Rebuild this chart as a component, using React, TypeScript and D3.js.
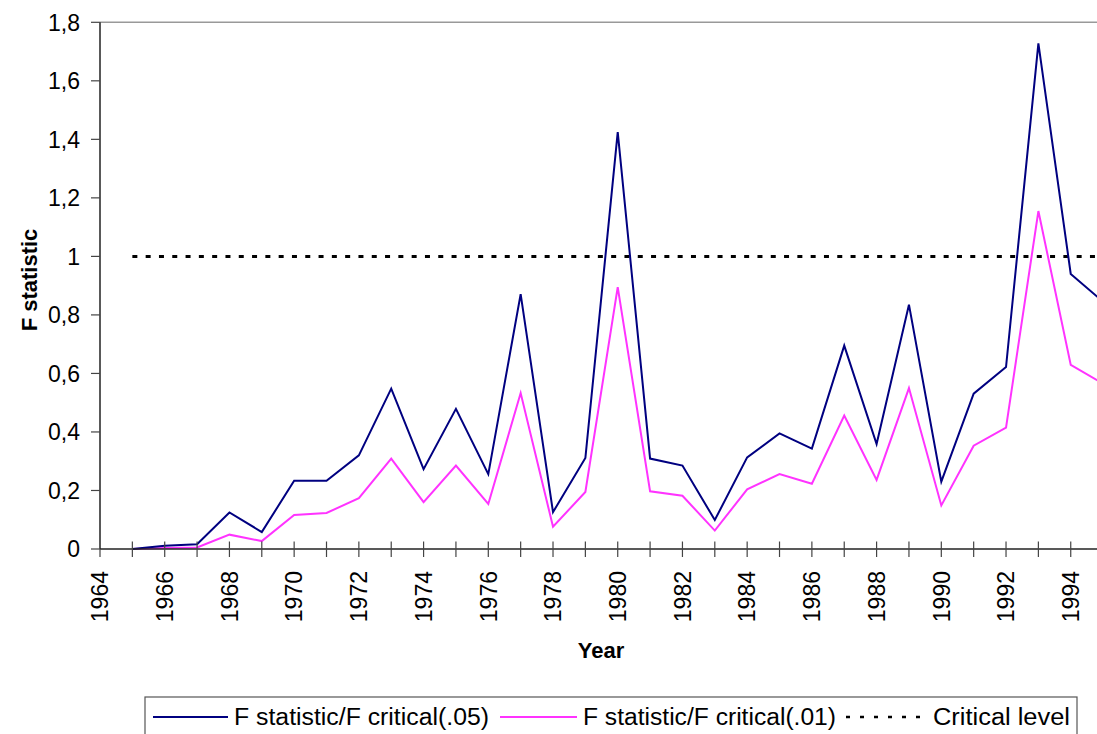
import React from "react";
import * as d3 from "d3";

const years = d3.range(1965, 1996);
const f05 = [0, 0.011, 0.016, 0.125, 0.058, 0.233, 0.233, 0.32, 0.548, 0.273, 0.479, 0.256, 0.871, 0.126, 0.311, 1.425, 0.309, 0.285, 0.099, 0.313, 0.395, 0.343, 0.695, 0.359, 0.835, 0.23, 0.531, 0.622, 1.728, 0.94, 0.845];
const f01 = [0, 0.003, 0.005, 0.049, 0.027, 0.116, 0.123, 0.174, 0.309, 0.16, 0.285, 0.154, 0.533, 0.076, 0.195, 0.895, 0.197, 0.182, 0.063, 0.204, 0.256, 0.223, 0.456, 0.236, 0.55, 0.149, 0.353, 0.415, 1.155, 0.629, 0.565];
const critical = 1;
const yTicks = [0, 0.2, 0.4, 0.6, 0.8, 1, 1.2, 1.4, 1.6, 1.8];
const xLabelYears = d3.range(1964, 1995, 2);
const tickYears = d3.range(1964, 1996);
const seriesNames = ["F statistic/F critical(.05)", "F statistic/F critical(.01)", "Critical level"];

const W = 1097, H = 734;
const FONT = "Arial, 'Liberation Sans', Helvetica, sans-serif";

export default function App() {
  const x = d3.scaleLinear().domain([1964, 1995]).range([100, 1103.1]);
  const y = d3.scaleLinear().domain([0, 1.8]).range([549, 22.3]);
  const line = d3.line<number>().x((_, i) => x(years[i])).y((d) => y(d));
  const fmt = (v: number) => (v === 0 || v === 1 ? String(v) : v.toFixed(1).replace(".", ","));

  return (
    <svg width={W} height={H} style={{ position: "absolute", left: 0, top: 0, background: "#fff" }} fontFamily={FONT}>
      <rect x={0} y={0} width={W} height={H} fill="#fff" />
      <line x1={100} x2={W} y1={y(1.8)} y2={y(1.8)} stroke="#999" strokeWidth={1.5} />
      <line x1={x(1965)} x2={x(1995)} y1={y(critical)} y2={y(critical)} stroke="#000" strokeWidth={3} strokeDasharray="5 8.3" />
      <path d={line(f01) || ""} fill="none" stroke="#ff33ff" strokeWidth={2} />
      <path d={line(f05) || ""} fill="none" stroke="#000080" strokeWidth={2} />
      <line x1={100} x2={100} y1={y(1.8)} y2={y(0)} stroke="#222" strokeWidth={1.5} />
      <line x1={100} x2={W} y1={y(0)} y2={y(0)} stroke="#222" strokeWidth={1.5} />
      {yTicks.map((t) => (
        <g key={t}>
          <line x1={91} x2={100} y1={y(t)} y2={y(t)} stroke="#444" strokeWidth={1.2} />
          <text x={80} y={y(t)} dy="0.36em" textAnchor="end" fontSize={23} fill="#000">{fmt(t)}</text>
        </g>
      ))}
      {tickYears.map((t) => (
        <line key={t} x1={x(t)} x2={x(t)} y1={t === 1964 ? y(0) : y(0) - 7.5} y2={y(0) + 8} stroke="#444" strokeWidth={1.2} />
      ))}
      {xLabelYears.map((t) => (
        <text key={t} transform={`translate(${x(t)},571) rotate(-90)`} dy="0.36em" textAnchor="end" fontSize={23} fill="#000">{t}</text>
      ))}
      <text x={601} y={658} textAnchor="middle" fontSize={22} fontWeight="bold">Year</text>
      <text transform="translate(37,280) rotate(-90)" textAnchor="middle" fontSize={22} fontWeight="bold">F statistic</text>
      <rect x={145} y={697} width={932} height={50} fill="#fff" stroke="#555" strokeWidth={1.2} />
      <line x1={153} x2={228} y1={717} y2={717} stroke="#000080" strokeWidth={2} />
      <text x={234} y={725} fontSize={23} textLength={255} lengthAdjust="spacingAndGlyphs">{seriesNames[0]}</text>
      <line x1={500} x2={577} y1={717} y2={717} stroke="#ff33ff" strokeWidth={2} />
      <text x={583} y={725} fontSize={23} textLength={253} lengthAdjust="spacingAndGlyphs">{seriesNames[1]}</text>
      <line x1={846} x2={928} y1={717} y2={717} stroke="#000" strokeWidth={2.5} strokeDasharray="4 10" />
      <text x={933} y={725} fontSize={23} textLength={137} lengthAdjust="spacingAndGlyphs">{seriesNames[2]}</text>
    </svg>
  );
}
